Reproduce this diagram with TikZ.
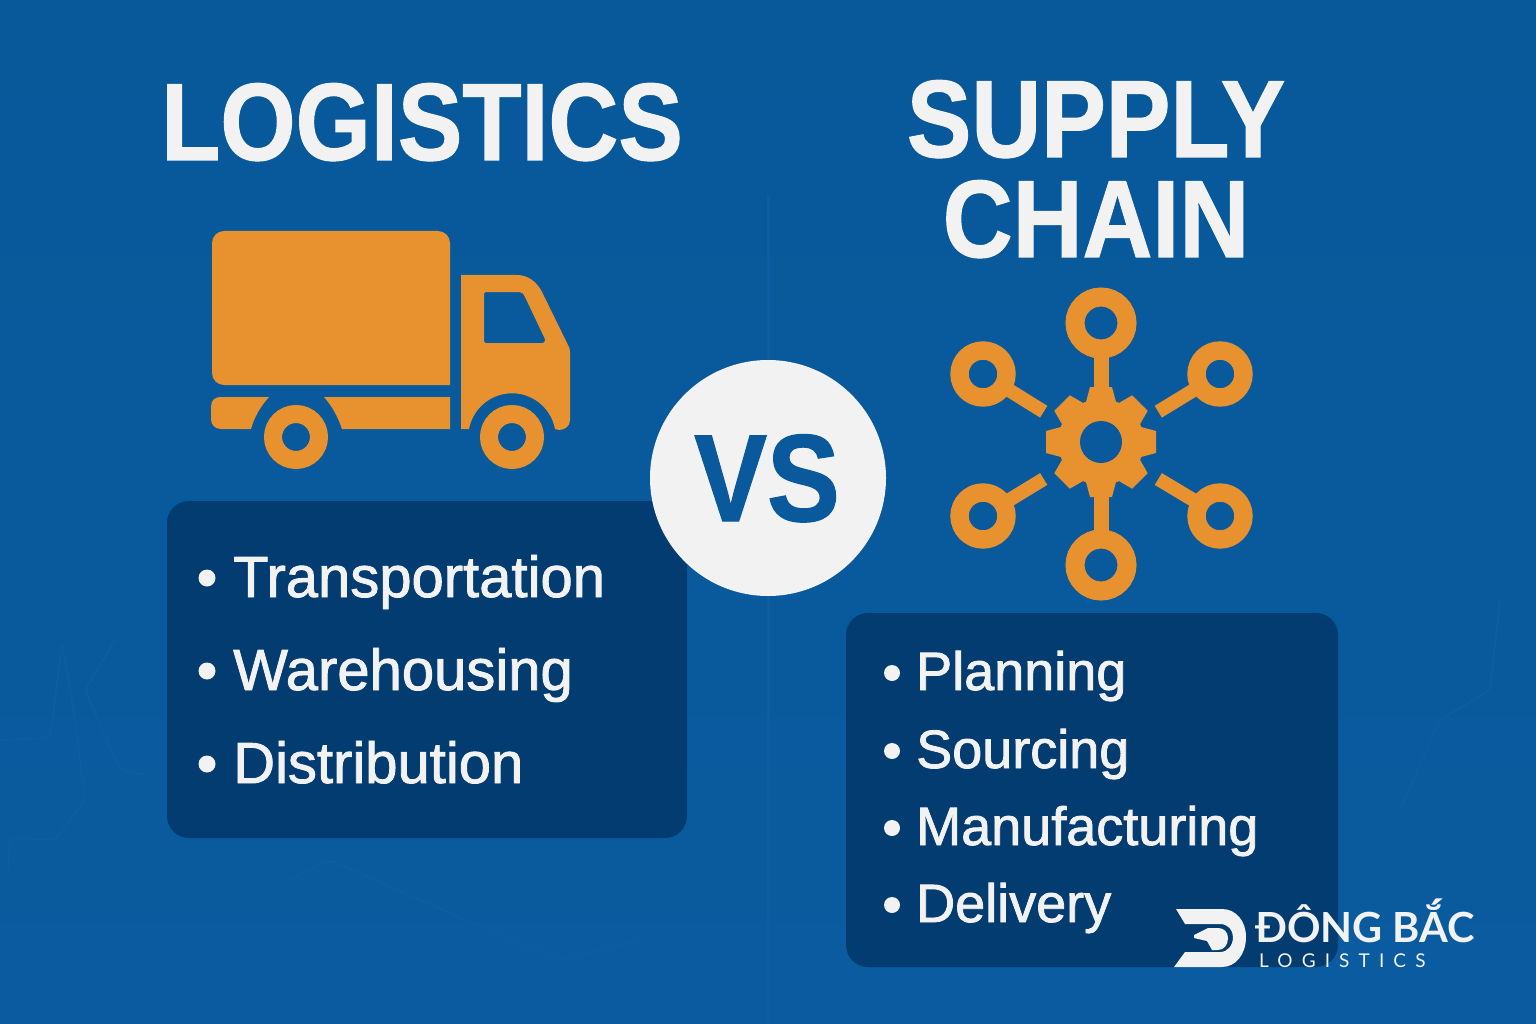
\documentclass[tikz,border=0pt]{standalone}
\usepackage{fontspec}
\setmainfont{Liberation Sans}
\newfontfamily\headfont[FakeStretch=0.88]{Liberation Sans}
\newfontfamily\logofont{Lato}
\usetikzlibrary{positioning}

\definecolor{bgtop}{HTML}{08599A}
\definecolor{bgblue}{HTML}{09599C}
\definecolor{bgbottom}{HTML}{0A5B9F}
\definecolor{bgline}{HTML}{0B5EA4}
\definecolor{navy}{HTML}{023C70}
\definecolor{iconorange}{HTML}{E8922F}
\definecolor{offwhite}{HTML}{F2F2F2}

\tikzset{
  title/.style={font=\headfont\fontsize{110}{110}\selectfont\bfseries\addfontfeatures{FakeBold=1}, text=offwhite, inner sep=0pt},
  panel/.style={fill=navy, rounded corners=22pt, inner sep=0pt},
  item/.style={font=\fontsize{58}{58}\selectfont\addfontfeatures{FakeBold=1.5}, text=offwhite, inner sep=0pt, anchor=base west},
  dotmark/.style={circle, fill=offwhite, inner sep=0pt, minimum size=17pt},
  bigring/.style={circle, draw=iconorange, line width=19pt, minimum size=52pt, inner sep=0pt, outer sep=0pt},
  smallring/.style={circle, draw=iconorange, line width=18.4pt, minimum size=47pt, inner sep=0pt, outer sep=0pt},
  spoke/.style={draw=iconorange, line width=15pt},
  thinspoke/.style={draw=iconorange, line width=13.8pt},
  vein/.style={draw=bgline, line width=1.5pt, line join=round, rounded corners=6pt},
}

\begin{document}
\begin{tikzpicture}[x=1pt,y=-1pt]
\useasboundingbox (0,0) rectangle (1536,1024);
\shade[top color=bgtop, bottom color=bgbottom] (0,0) rectangle (1536,1024);
\draw[bgline, line width=3pt] (768,195) -- (768,1024);

% faint texture
\draw[vein] (0,740) -- (50,738) -- (62,643) -- (75,720) -- (85,800) -- (55,840) -- (10,838) -- (8,870);
\draw[vein] (115,640) -- (85,690) -- (120,770) -- (145,775);
\draw[vein] (1400,810) -- (1440,720) -- (1490,690) -- (1500,600);
\draw[vein] (290,880) -- (330,860) -- (420,900) -- (560,960) -- (640,940);

% titles
\node[title, anchor=base] (logi) at (422,160) {LOGISTICS};
\node[title, anchor=base] (supply) at (1096,157) {SUPPLY};
\node[title, anchor=base] (chain) at (1096,257) {CHAIN};

% truck
\fill[iconorange] (212,243) arc[start angle=180,end angle=270,radius=12] -- (438,231)
  arc[start angle=270,end angle=360,radius=12] -- (450,385) -- (224,385)
  arc[start angle=90,end angle=180,radius=12] -- cycle;
\fill[iconorange] (211,407) .. controls (211,400) and (215,397) .. (221,397) -- (269,397)
  .. controls (260,407) and (254,418) .. (251,429) -- (221,429)
  .. controls (215,429) and (211,425) .. (211,419) -- cycle;
\fill[iconorange] (324,397) -- (450,397) -- (450,429) -- (342,429)
  .. controls (338,417) and (332,406) .. (324,397) -- cycle;
\fill[iconorange,even odd rule] (461,275) -- (517,275)
  .. controls (528,275) and (537,282) .. (542,292) -- (567,343)
  .. controls (569,346) and (570,349) .. (570,353) -- (570,420)
  .. controls (570,426) and (565,430) .. (559,430) -- (555,429)
  arc[start angle=349.5,end angle=190.5,radius=43.7] -- (461,429) -- cycle
  (486,292) -- (519,292) .. controls (522,292) and (524,294) .. (525,297) -- (544,337)
  .. controls (546,340) and (545,343) .. (542,343) -- (486,343)
  .. controls (485,343) and (484,342) .. (484,341) -- (484,294)
  .. controls (484,293) and (485,292) .. (486,292) -- cycle;
\node[smallring, line width=18pt, minimum size=46pt] (wheelA) at (296,437) {};
\node[smallring, line width=18pt, minimum size=46pt] (wheelB) at (512,437) {};

% network
\coordinate (hub) at (1101,442);
\coordinate (endUL) at (1043.7,411.7);
\coordinate (endUR) at (1158.3,411.7);
\coordinate (endLL) at (1043.7,479);
\coordinate (endLR) at (1158.3,479);
\node[bigring] (ringT) at (1101,323) {};
\node[bigring] (ringB) at (1101,565) {};
\node[smallring] (ringUL) at (983,374) {};
\node[smallring] (ringUR) at (1220,374) {};
\node[smallring] (ringLL) at (983,516) {};
\node[smallring] (ringLR) at (1220,516) {};
\draw[spoke] (ringT) -- (hub);
\draw[spoke] (ringB) -- (hub);
\draw[thinspoke] (ringUL) -- (endUL);
\draw[thinspoke] (ringUR) -- (endUR);
\draw[thinspoke] (ringLL) -- (endLL);
\draw[thinspoke] (ringLR) -- (endLR);
\fill[iconorange] (hub) circle[radius=43];
\foreach \a in {0,45,...,315}
  \fill[iconorange, shift={(hub)}, rotate=\a] (40,-15) -- (55,-11) -- (55,11) -- (40,15) -- cycle;
\node[circle, fill=bgblue, minimum size=42pt, inner sep=0pt] (hole) at (hub) {};

% left list
\node[panel, minimum width=520pt, minimum height=337pt] (boxL) at (427,669.5) {};
\foreach \y/\t/\n in {597/Transportation/itT, 690/Warehousing/itW, 783/Distribution/itD} {
  \node[dotmark] at (207,\y-19) {};
  \node[item] (\n) at (233,\y) {\t};
}

% right list
\node[panel, minimum width=492pt, minimum height=354pt] (boxR) at (1092,790) {};
\foreach \y/\t/\n in {690/Planning/itP, 768/Sourcing/itS, 845/Manufacturing/itM, 922/Delivery/itV} {
  \node[dotmark, minimum size=16pt] at (892,\y-17) {};
  \node[item, font=\fontsize{54}{54}\selectfont\addfontfeatures{FakeBold=1.5}] (\n) at (916,\y) {\t};
}

% vs badge
\node[circle, fill=offwhite, minimum size=236pt, inner sep=0pt] (badge) at (768,478) {};
\node[font=\headfont\fontsize{124}{124}\selectfont\bfseries\addfontfeatures{FakeBold=1}, text=bgblue, inner sep=0pt, anchor=base] (vs) at (767,521) {VS};

% logo
\fill[offwhite] (1176,909) -- (1222,909) .. controls (1236,909) and (1246,921) .. (1246,937)
  .. controls (1246,954) and (1236,967) .. (1222,967) -- (1174,967) -- (1185,952) -- (1220,952)
  .. controls (1228,952) and (1233,945) .. (1233,937) .. controls (1233,930) and (1228,924) .. (1220,924)
  -- (1185,924) -- cycle;
\fill[offwhite] (1194,935) -- (1208,928) -- (1218,928) .. controls (1224,928) and (1228,932) .. (1228,938)
  .. controls (1228,945) and (1224,950) .. (1218,950) -- (1212,950) -- (1207,941) -- (1194,938) -- cycle;
\node[font=\logofont\fontsize{41.5}{41.5}\selectfont\bfseries, text=offwhite, inner sep=0pt, anchor=base west] (brand) at (1255,942) {ĐÔNG BẮC};
\node[font=\logofont\fontsize{19}{19}\selectfont\addfontfeatures{LetterSpace=48}, text=offwhite, inner sep=0pt, anchor=base west] (brandsub) at (1259,967) {LOGISTICS};
\end{tikzpicture}
\end{document}
